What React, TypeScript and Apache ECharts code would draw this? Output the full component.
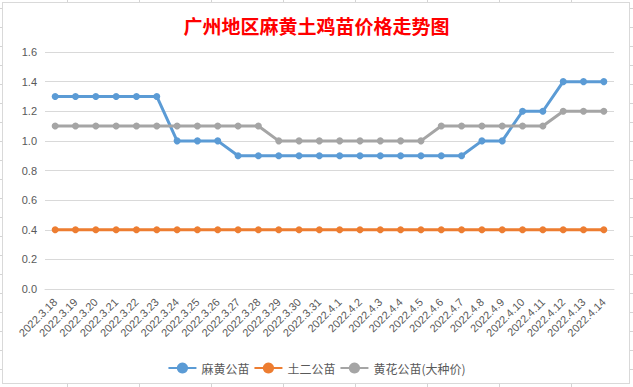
import React, { useEffect, useRef } from "react";
import * as echarts from "echarts";

const categories = [
  "2022.3.18", "2022.3.19", "2022.3.20", "2022.3.21", "2022.3.22", "2022.3.23", "2022.3.24",
  "2022.3.25", "2022.3.26", "2022.3.27", "2022.3.28", "2022.3.29", "2022.3.30", "2022.3.31",
  "2022.4.1", "2022.4.2", "2022.4.3", "2022.4.4", "2022.4.5", "2022.4.6", "2022.4.7",
  "2022.4.8", "2022.4.9", "2022.4.10", "2022.4.11", "2022.4.12", "2022.4.13", "2022.4.14",
];

const mahuang = [
  1.3, 1.3, 1.3, 1.3, 1.3, 1.3, 1.0, 1.0, 1.0, 0.9, 0.9, 0.9, 0.9, 0.9,
  0.9, 0.9, 0.9, 0.9, 0.9, 0.9, 0.9, 1.0, 1.0, 1.2, 1.2, 1.4, 1.4, 1.4,
];
const tuer = [
  0.4, 0.4, 0.4, 0.4, 0.4, 0.4, 0.4, 0.4, 0.4, 0.4, 0.4, 0.4, 0.4, 0.4,
  0.4, 0.4, 0.4, 0.4, 0.4, 0.4, 0.4, 0.4, 0.4, 0.4, 0.4, 0.4, 0.4, 0.4,
];
const huanghua = [
  1.1, 1.1, 1.1, 1.1, 1.1, 1.1, 1.1, 1.1, 1.1, 1.1, 1.1, 1.0, 1.0, 1.0,
  1.0, 1.0, 1.0, 1.0, 1.0, 1.1, 1.1, 1.1, 1.1, 1.1, 1.1, 1.2, 1.2, 1.2,
];

const seriesNames = ["麻黄公苗", "土二公苗", "黄花公苗(大种价)"];
const seriesColors = ["#5b9bd5", "#ed7d31", "#a5a5a5"];
const titleText = "广州地区麻黄土鸡苗价格走势图";

const FONT = "'Liberation Sans', 'Noto Sans CJK SC', sans-serif";

export default function App() {
  const ref = useRef<HTMLDivElement>(null);

  useEffect(() => {
    document.body.style.margin = "0";
    if (!ref.current) return;
    const chart = echarts.init(ref.current, null, { renderer: "svg" });
    const datas = [mahuang, tuer, huanghua];
    chart.setOption({
      animation: false,
      backgroundColor: "transparent",
      title: {
        text: titleText,
        left: "center",
        top: 11,
        textStyle: {
          color: "#ff0000",
          fontSize: 19,
          fontWeight: "bold",
          fontFamily: "'Noto Sans CJK SC', sans-serif",
        },
      },
      grid: { left: 45, right: 19, top: 52, bottom: 98, containLabel: false },
      legend: {
        top: 357,
        left: "center",
        itemWidth: 28,
        itemHeight: 14,
        itemGap: 4,
        textStyle: { color: "#595959", fontSize: 12, fontFamily: "'Noto Sans CJK SC', sans-serif" },
        data: seriesNames,
      },
      xAxis: {
        type: "category",
        data: categories,
        boundaryGap: true,
        axisLine: { show: true, lineStyle: { color: "#d9d9d9" } },
        axisTick: { show: false },
        axisLabel: {
          rotate: 45,
          interval: 0,
          color: "#595959",
          fontSize: 11,
          margin: 11,
          fontFamily: FONT,
        },
      },
      yAxis: {
        type: "value",
        min: 0,
        max: 1.6,
        interval: 0.2,
        axisLine: { show: false },
        axisTick: { show: false },
        splitLine: { lineStyle: { color: "#d9d9d9", width: 1 } },
        axisLabel: {
          color: "#595959",
          fontSize: 11,
          margin: 8,
          fontFamily: FONT,
          formatter: (v: number) => v.toFixed(1),
        },
      },
      series: seriesNames.map((name, i) => ({
        name,
        type: "line",
        data: datas[i],
        symbol: "circle",
        symbolSize: 7,
        lineStyle: { width: 3, color: seriesColors[i] },
        itemStyle: { color: seriesColors[i] },
      })),
    });
    return () => chart.dispose();
  }, []);

  return (
    <div
      style={{
        position: "relative",
        width: 633,
        height: 387,
        overflow: "hidden",
        background: "#ffffff",
      }}
    >
      <div
        style={{
          position: "absolute",
          left: 0,
          top: 0,
          width: 633,
          height: 387,
          backgroundImage:
            "linear-gradient(to right, #d4d4d4 1px, transparent 1px), linear-gradient(to bottom, #d4d4d4 1px, transparent 1px)",
          backgroundSize: "72px 19px",
          backgroundPosition: "67px 8px",
        }}
      />
      <div
        style={{
          position: "absolute",
          left: 2,
          top: 2,
          width: 628,
          height: 382,
          boxSizing: "border-box",
          border: "1px solid #d9d9d9",
          background: "#ffffff",
        }}
      />
      <div
        ref={ref}
        style={{ position: "absolute", left: 0, top: 0, width: 633, height: 387 }}
      />
    </div>
  );
}
